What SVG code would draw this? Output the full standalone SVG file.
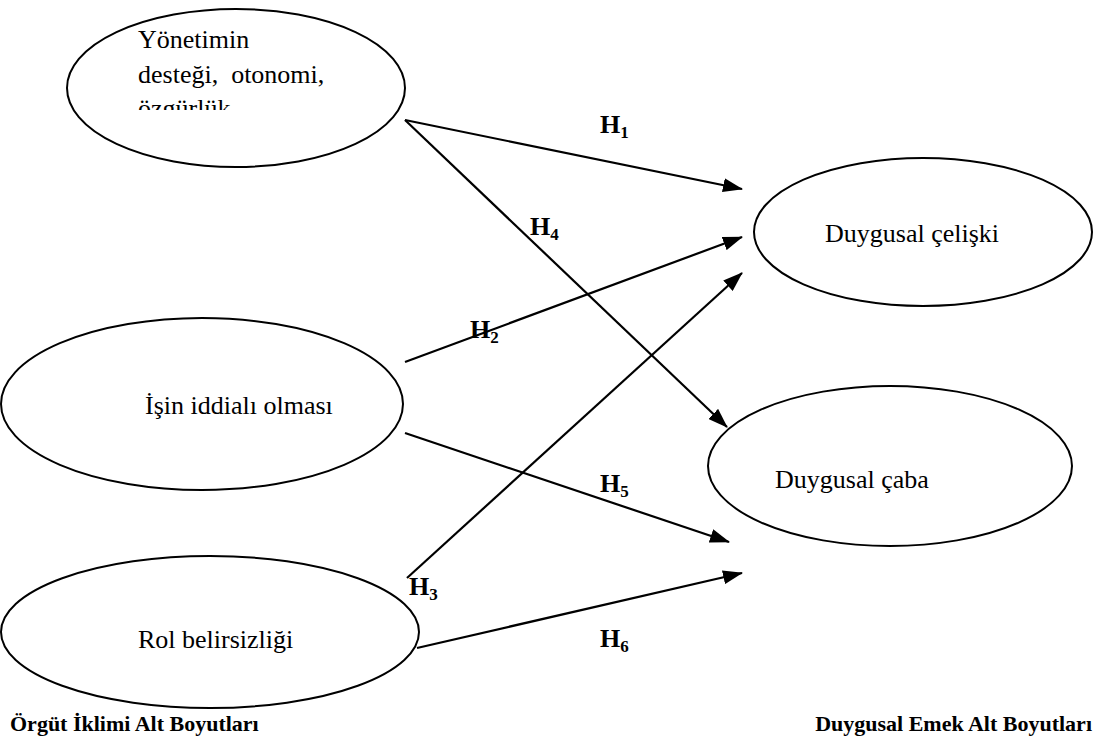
<svg xmlns="http://www.w3.org/2000/svg" width="1105" height="753" viewBox="0 0 1105 753">
<style>
.node ellipse{fill:#fff;stroke:#000;stroke-width:2}
.t{font-family:"Liberation Serif","Times New Roman",serif;font-size:26px;fill:#000}
.h{font-family:"Liberation Serif","Times New Roman",serif;font-size:26px;font-weight:bold;fill:#000}
.s{font-size:17px}
.lbl{font-family:"Liberation Serif","Times New Roman",serif;font-size:22px;font-weight:bold;fill:#000}
.c line{stroke:#000;stroke-width:2.2;marker-end:url(#ah)}
</style>
<defs>
<marker id="ah" viewBox="0 0 20 14" refX="19" refY="7" markerWidth="20" markerHeight="14" markerUnits="userSpaceOnUse" orient="auto">
<path d="M0,0 L20,7 L0,14 z" fill="#000"/>
</marker>
<clipPath id="clip1"><rect x="120" y="20" width="260" height="90"/></clipPath>
</defs>
<rect width="1105" height="753" fill="#fff"/>
<g id="n1" class="node">
<ellipse cx="236" cy="88" rx="169" ry="79"/>
<g clip-path="url(#clip1)">
<text class="t" x="138" y="48">Yönetimin</text>
<text class="t" x="138" y="83" xml:space="preserve">desteği,  otonomi,</text>
<text class="t" x="138" y="117">özgürlük</text>
</g>
</g>
<g id="n2" class="node">
<ellipse cx="202" cy="404" rx="201" ry="86"/>
<text class="t" x="145" y="414">İşin iddialı olması</text>
</g>
<g id="n3" class="node">
<ellipse cx="210" cy="632" rx="209" ry="76"/>
<text class="t" x="138" y="648">Rol belirsizliği</text>
</g>
<g id="n4" class="node">
<ellipse cx="923" cy="232" rx="169" ry="74"/>
<text class="t" x="825" y="242">Duygusal çelişki</text>
</g>
<g id="n5" class="node">
<ellipse cx="890" cy="466" rx="182" ry="80"/>
<text class="t" x="775" y="488">Duygusal çaba</text>
</g>
<g id="connectors" class="c">
<line x1="405" y1="120" x2="742" y2="189"/>
<line x1="405" y1="120" x2="727" y2="427"/>
<line x1="405" y1="362" x2="742" y2="237"/>
<line x1="407" y1="578" x2="742" y2="273"/>
<line x1="405" y1="433" x2="729" y2="542"/>
<line x1="417" y1="648" x2="742" y2="573"/>
</g>
<g id="labels">
<text class="h" x="600" y="133">H<tspan class="s" dy="5">1</tspan></text>
<text class="h" x="530" y="235">H<tspan class="s" dy="5">4</tspan></text>
<text class="h" x="470" y="338">H<tspan class="s" dy="5">2</tspan></text>
<text class="h" x="600" y="492">H<tspan class="s" dy="5">5</tspan></text>
<text class="h" x="409" y="595">H<tspan class="s" dy="5">3</tspan></text>
<text class="h" x="600" y="647">H<tspan class="s" dy="5">6</tspan></text>
<text class="lbl" x="10" y="731">Örgüt İklimi Alt Boyutları</text>
<text class="lbl" x="1092" y="731" text-anchor="end">Duygusal Emek Alt Boyutları</text>
</g>
</svg>
